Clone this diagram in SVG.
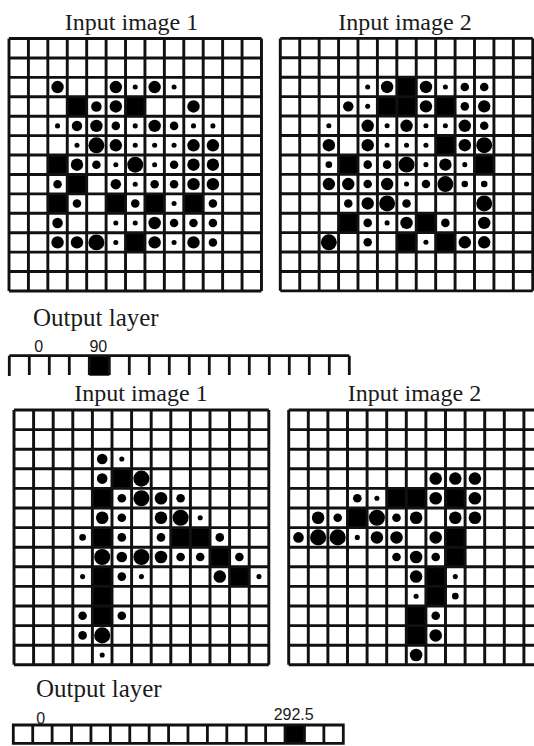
<svg xmlns="http://www.w3.org/2000/svg" width="534" height="746" viewBox="0 0 534 746">
<style>
.t{font-family:"Liberation Serif","Times New Roman",serif;font-size:24px;fill:#1a1a1a;text-anchor:middle}
.o{font-family:"Liberation Serif","Times New Roman",serif;font-size:25px;fill:#1a1a1a}
.n{font-family:"Liberation Sans",Arial,sans-serif;font-size:16px;fill:#1a1a1a;text-anchor:middle}
.g{fill:none;stroke:#111;stroke-width:0.15}
.bar{fill:none;stroke:#111;stroke-width:2.8}
</style>
<defs>
<circle id="s" r="0.13" fill="#000"/>
<circle id="n" r="0.17" fill="#000"/>
<circle id="m" r="0.22" fill="#000"/>
<circle id="k" r="0.27" fill="#000"/>
<circle id="l" r="0.32" fill="#000"/>
<circle id="x" r="0.41" fill="#000"/>
<rect id="F" width="1" height="1" fill="#000"/>
<path id="grid" class="g" d="M0 0H13M0 1H13M0 2H13M0 3H13M0 4H13M0 5H13M0 6H13M0 7H13M0 8H13M0 9H13M0 10H13M0 11H13M0 12H13M0 13H13M0 0V13M1 0V13M2 0V13M3 0V13M4 0V13M5 0V13M6 0V13M7 0V13M8 0V13M9 0V13M10 0V13M11 0V13M12 0V13M13 0V13"/>
</defs>
<rect width="534" height="746" fill="#fff"/>

<text class="t" x="131.5" y="30">Input image 1</text>
<text class="t" x="405" y="30">Input image 2</text>

<g id="top-image-1" transform="translate(9,38.5) scale(19.42)">
<use href="#l" x="2.5" y="2.5"/><use href="#l" x="5.5" y="2.5"/><use href="#s" x="6.5" y="2.5"/><use href="#l" x="7.5" y="2.5"/><use href="#s" x="8.5" y="2.5"/>
<use href="#F" x="3" y="3"/><use href="#k" x="4.5" y="3.5"/><use href="#l" x="5.5" y="3.5"/><use href="#F" x="6" y="3"/><use href="#l" x="9.5" y="3.5"/>
<use href="#s" x="2.5" y="4.5"/><use href="#k" x="3.5" y="4.5"/><use href="#l" x="4.5" y="4.5"/><use href="#m" x="5.5" y="4.5"/><use href="#s" x="6.5" y="4.5"/><use href="#l" x="7.5" y="4.5"/><use href="#m" x="8.5" y="4.5"/><use href="#s" x="9.5" y="4.5"/><use href="#s" x="10.5" y="4.5"/>
<use href="#s" x="3.5" y="5.5"/><use href="#x" x="4.5" y="5.5"/><use href="#l" x="5.5" y="5.5"/><use href="#s" x="6.5" y="5.5"/><use href="#s" x="7.5" y="5.5"/><use href="#s" x="8.5" y="5.5"/><use href="#l" x="9.5" y="5.5"/><use href="#l" x="10.5" y="5.5"/>
<use href="#F" x="2" y="6"/><use href="#l" x="3.5" y="6.5"/><use href="#m" x="4.5" y="6.5"/><use href="#s" x="5.5" y="6.5"/><use href="#x" x="6.5" y="6.5"/><use href="#s" x="7.5" y="6.5"/><use href="#m" x="8.5" y="6.5"/><use href="#l" x="9.5" y="6.5"/><use href="#l" x="10.5" y="6.5"/>
<use href="#m" x="2.5" y="7.5"/><use href="#F" x="3" y="7"/><use href="#k" x="5.5" y="7.5"/><use href="#s" x="6.5" y="7.5"/><use href="#m" x="7.5" y="7.5"/><use href="#m" x="8.5" y="7.5"/><use href="#l" x="9.5" y="7.5"/><use href="#l" x="10.5" y="7.5"/>
<use href="#F" x="2" y="8"/><use href="#m" x="3.5" y="8.5"/><use href="#F" x="5" y="8"/><use href="#m" x="6.5" y="8.5"/><use href="#F" x="7" y="8"/><use href="#s" x="8.5" y="8.5"/><use href="#F" x="9" y="8"/><use href="#m" x="10.5" y="8.5"/>
<use href="#k" x="2.5" y="9.5"/><use href="#s" x="5.5" y="9.5"/><use href="#s" x="6.5" y="9.5"/><use href="#l" x="7.5" y="9.5"/><use href="#m" x="8.5" y="9.5"/><use href="#m" x="9.5" y="9.5"/><use href="#m" x="10.5" y="9.5"/>
<use href="#l" x="2.5" y="10.5"/><use href="#l" x="3.5" y="10.5"/><use href="#x" x="4.5" y="10.5"/><use href="#s" x="5.5" y="10.5"/><use href="#F" x="6" y="10"/><use href="#l" x="7.5" y="10.5"/><use href="#s" x="8.5" y="10.5"/><use href="#l" x="9.5" y="10.5"/><use href="#m" x="10.5" y="10.5"/>
<use href="#grid"/>
</g>

<g id="top-image-2" transform="translate(280.3,38.4) scale(19.42)">
<use href="#s" x="4.5" y="2.5"/><use href="#l" x="5.5" y="2.5"/><use href="#F" x="6" y="2"/><use href="#l" x="7.5" y="2.5"/><use href="#s" x="8.5" y="2.5"/><use href="#m" x="9.5" y="2.5"/><use href="#m" x="10.5" y="2.5"/>
<use href="#k" x="3.5" y="3.5"/><use href="#s" x="4.5" y="3.5"/><use href="#F" x="5" y="3"/><use href="#F" x="6" y="3"/><use href="#l" x="7.5" y="3.5"/><use href="#F" x="8" y="3"/><use href="#m" x="9.5" y="3.5"/><use href="#l" x="10.5" y="3.5"/>
<use href="#s" x="2.5" y="4.5"/><use href="#l" x="4.5" y="4.5"/><use href="#s" x="5.5" y="4.5"/><use href="#l" x="6.5" y="4.5"/><use href="#s" x="7.5" y="4.5"/><use href="#s" x="8.5" y="4.5"/><use href="#l" x="9.5" y="4.5"/><use href="#m" x="10.5" y="4.5"/>
<use href="#l" x="2.5" y="5.5"/><use href="#l" x="4.5" y="5.5"/><use href="#s" x="5.5" y="5.5"/><use href="#s" x="6.5" y="5.5"/><use href="#s" x="7.5" y="5.5"/><use href="#F" x="8" y="5"/><use href="#l" x="9.5" y="5.5"/><use href="#x" x="10.5" y="5.5"/>
<use href="#n" x="2.5" y="6.5"/><use href="#F" x="3" y="6"/><use href="#m" x="4.5" y="6.5"/><use href="#m" x="5.5" y="6.5"/><use href="#x" x="6.5" y="6.5"/><use href="#s" x="7.5" y="6.5"/><use href="#l" x="8.5" y="6.5"/><use href="#s" x="9.5" y="6.5"/><use href="#F" x="10" y="6"/>
<use href="#l" x="2.5" y="7.5"/><use href="#l" x="3.5" y="7.5"/><use href="#m" x="4.5" y="7.5"/><use href="#l" x="5.5" y="7.5"/><use href="#s" x="6.5" y="7.5"/><use href="#m" x="7.5" y="7.5"/><use href="#x" x="8.5" y="7.5"/><use href="#n" x="9.5" y="7.5"/><use href="#n" x="10.5" y="7.5"/>
<use href="#m" x="3.5" y="8.5"/><use href="#l" x="4.5" y="8.5"/><use href="#x" x="5.5" y="8.5"/><use href="#m" x="6.5" y="8.5"/><use href="#x" x="10.5" y="8.5"/>
<use href="#F" x="3" y="9"/><use href="#m" x="4.5" y="9.5"/><use href="#s" x="5.5" y="9.5"/><use href="#l" x="6.5" y="9.5"/><use href="#F" x="7" y="9"/><use href="#m" x="8.5" y="9.5"/><use href="#l" x="10.5" y="9.5"/>
<use href="#x" x="2.5" y="10.5"/><use href="#m" x="4.5" y="10.5"/><use href="#F" x="6" y="10"/><use href="#s" x="7.5" y="10.5"/><use href="#F" x="8" y="10"/><use href="#l" x="9.5" y="10.5"/><use href="#l" x="10.5" y="10.5"/>
<use href="#grid"/>
</g>

<g id="output-layer-1">
<text class="o" x="33" y="325.5">Output layer</text>
<text class="n" x="38.7" y="351.5">0</text>
<text class="n" x="98.3" y="351.5">90</text>
<rect x="89.3" y="355.7" width="20" height="20" fill="#000"/>
<path class="bar" d="M9.3 355.7H349.3M9.3 355.7V376M29.3 355.7V375M49.3 355.7V375M69.3 355.7V375M89.3 355.7V375M109.3 355.7V375M129.3 355.7V375M149.3 355.7V375M169.3 355.7V375M189.3 355.7V375M209.3 355.7V375M229.3 355.7V375M249.3 355.7V375M269.3 355.7V375M289.3 355.7V375M309.3 355.7V375M329.3 355.7V375M349.3 355.7V375"/>
</g>

<text class="t" x="141" y="400.5">Input image 1</text>
<text class="t" x="414.5" y="400.5">Input image 2</text>

<g id="bottom-image-1" transform="translate(14,410) scale(19.6)">
<use href="#k" x="4.5" y="2.5"/><use href="#s" x="5.5" y="2.5"/>
<use href="#k" x="4.5" y="3.5"/><use href="#F" x="5" y="3"/><use href="#x" x="6.5" y="3.5"/>
<use href="#F" x="4" y="4"/><use href="#m" x="5.5" y="4.5"/><use href="#x" x="6.5" y="4.5"/><use href="#l" x="7.5" y="4.5"/><use href="#m" x="8.5" y="4.5"/>
<use href="#l" x="4.5" y="5.5"/><use href="#m" x="5.5" y="5.5"/><use href="#l" x="7.5" y="5.5"/><use href="#x" x="8.5" y="5.5"/><use href="#s" x="9.5" y="5.5"/>
<use href="#n" x="3.5" y="6.5"/><use href="#F" x="4" y="6"/><use href="#m" x="5.5" y="6.5"/><use href="#m" x="7.5" y="6.5"/><use href="#F" x="8" y="6"/><use href="#F" x="9" y="6"/><use href="#m" x="10.5" y="6.5"/>
<use href="#x" x="4.5" y="7.5"/><use href="#k" x="5.5" y="7.5"/><use href="#x" x="6.5" y="7.5"/><use href="#l" x="7.5" y="7.5"/><use href="#m" x="8.5" y="7.5"/><use href="#m" x="9.5" y="7.5"/><use href="#F" x="10" y="7"/><use href="#m" x="11.5" y="7.5"/>
<use href="#s" x="3.5" y="8.5"/><use href="#F" x="4" y="8"/><use href="#m" x="5.5" y="8.5"/><use href="#s" x="6.5" y="8.5"/><use href="#l" x="10.5" y="8.5"/><use href="#F" x="11" y="8"/><use href="#s" x="12.5" y="8.5"/>
<use href="#F" x="4" y="9"/>
<use href="#m" x="3.5" y="10.5"/><use href="#F" x="4" y="10"/><use href="#m" x="5.5" y="10.5"/>
<use href="#m" x="3.5" y="11.5"/><use href="#x" x="4.5" y="11.5"/>
<use href="#s" x="4.5" y="12.5"/>
<use href="#grid"/>
</g>

<g id="bottom-image-2" transform="translate(288.7,410) scale(19.6)">
<use href="#l" x="7.5" y="3.5"/><use href="#l" x="8.5" y="3.5"/><use href="#l" x="9.5" y="3.5"/>
<use href="#m" x="3.5" y="4.5"/><use href="#s" x="4.5" y="4.5"/><use href="#F" x="5" y="4"/><use href="#F" x="6" y="4"/><use href="#l" x="7.5" y="4.5"/><use href="#F" x="8" y="4"/><use href="#l" x="9.5" y="4.5"/>
<use href="#l" x="1.5" y="5.5"/><use href="#m" x="2.5" y="5.5"/><use href="#F" x="3" y="5"/><use href="#x" x="4.5" y="5.5"/><use href="#m" x="5.5" y="5.5"/><use href="#l" x="6.5" y="5.5"/><use href="#l" x="8.5" y="5.5"/><use href="#l" x="9.5" y="5.5"/>
<use href="#k" x="0.5" y="6.5"/><use href="#x" x="1.5" y="6.5"/><use href="#x" x="2.5" y="6.5"/><use href="#s" x="3.5" y="6.5"/><use href="#l" x="4.5" y="6.5"/><use href="#l" x="5.5" y="6.5"/><use href="#l" x="7.5" y="6.5"/><use href="#F" x="8" y="6"/>
<use href="#m" x="5.5" y="7.5"/><use href="#l" x="6.5" y="7.5"/><use href="#m" x="7.5" y="7.5"/><use href="#F" x="8" y="7"/>
<use href="#l" x="6.5" y="8.5"/><use href="#F" x="7" y="8"/><use href="#s" x="8.5" y="8.5"/>
<use href="#s" x="6.5" y="9.5"/><use href="#F" x="7" y="9"/><use href="#n" x="8.5" y="9.5"/>
<use href="#F" x="6" y="10"/><use href="#m" x="7.5" y="10.5"/>
<use href="#F" x="6" y="11"/><use href="#l" x="7.5" y="11.5"/>
<use href="#l" x="6.5" y="12.5"/>
<use href="#grid"/>
</g>

<g id="output-layer-2">
<text class="o" x="36" y="696.5">Output layer</text>
<text class="n" x="40.7" y="724">0</text>
<text class="n" x="293.7" y="720">292.5</text>
<rect x="285.1" y="725" width="19.41" height="18.3" fill="#000"/>
<path class="bar" d="M13.3 725H343.3V743.3H13.3ZM32.71 725V743.3M52.12 725V743.3M71.53 725V743.3M90.94 725V743.3M110.35 725V743.3M129.76 725V743.3M149.17 725V743.3M168.58 725V743.3M187.99 725V743.3M207.4 725V743.3M226.81 725V743.3M246.22 725V743.3M265.63 725V743.3M285.04 725V743.3M304.45 725V743.3M323.86 725V743.3"/>
</g>
</svg>
